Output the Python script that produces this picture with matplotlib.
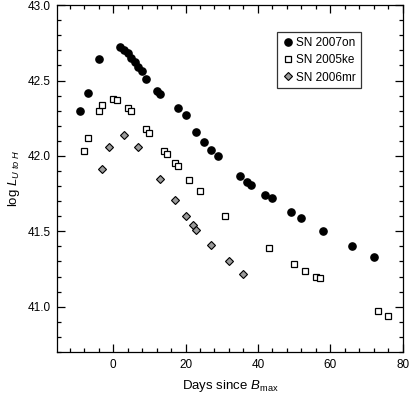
import matplotlib
matplotlib.use("Agg")
import matplotlib.pyplot as plt
from matplotlib.ticker import MultipleLocator

plt.rcParams["font.family"] = ["Liberation Sans", "DejaVu Sans"]
plt.rcParams["mathtext.fontset"] = "custom"
plt.rcParams["mathtext.rm"] = "Liberation Sans"
plt.rcParams["mathtext.it"] = "Liberation Sans:italic"

# SN 2007on
days_07on = [-9, -7, -4, 2, 3, 4, 5, 6, 7, 8, 9, 12, 13, 18, 20, 23, 25, 27, 29,
             35, 37, 38, 42, 44, 49, 52, 58, 66, 72]
lum_07on = [42.30, 42.42, 42.64, 42.72, 42.70, 42.68, 42.65, 42.62, 42.59, 42.56,
            42.51, 42.43, 42.41, 42.32, 42.27, 42.16, 42.09, 42.04, 42.00,
            41.87, 41.83, 41.81, 41.74, 41.72, 41.63, 41.59, 41.50, 41.40, 41.33]

# SN 2005ke
days_05ke = [-8, -7, -4, -3, 0, 1, 4, 5, 9, 10, 14, 15, 17, 18, 21, 24,
             31, 43, 50, 53, 56, 57, 73, 76]
lum_05ke = [42.03, 42.12, 42.30, 42.34, 42.38, 42.37, 42.32, 42.30, 42.18, 42.15,
            42.03, 42.01, 41.95, 41.93, 41.84, 41.77, 41.60, 41.39, 41.28, 41.24,
            41.20, 41.19, 40.97, 40.94]

# SN 2006mr
days_06mr = [-3, -1, 3, 7, 13, 17, 20, 22, 23, 27, 32, 36]
lum_06mr = [41.91, 42.06, 42.14, 42.06, 41.85, 41.71, 41.60, 41.54, 41.51,
            41.41, 41.30, 41.22]

fig = plt.figure(figsize=(4.09, 3.95), dpi=100)
ax = fig.add_axes([0.140, 0.109, 0.845, 0.878])

ax.plot(days_07on, lum_07on, "o", color="black", markersize=5.2, label="SN 2007on")
ax.plot(days_05ke, lum_05ke, "s", mfc="white", mec="black", mew=0.9,
        markersize=4.6, label="SN 2005ke")
ax.plot(days_06mr, lum_06mr, "D", mfc="#9a9a9a", mec="black", mew=0.8,
        markersize=4.2, label="SN 2006mr")

ax.set_xlim(-15.4, 80)
ax.set_ylim(40.7, 43.0)
ax.xaxis.set_major_locator(MultipleLocator(20))
ax.xaxis.set_minor_locator(MultipleLocator(4))
ax.yaxis.set_major_locator(MultipleLocator(0.5))
ax.yaxis.set_minor_locator(MultipleLocator(0.1))
ax.yaxis.set_major_formatter(plt.FormatStrFormatter("%.1f"))

ax.tick_params(which="both", direction="in", top=True, right=True,
               labelsize=8.5, width=0.9)
ax.tick_params(which="major", length=5.5)
ax.tick_params(axis="x", which="major", pad=5)
ax.tick_params(axis="y", which="major", pad=5)
ax.tick_params(which="minor", length=3.2)
for s in ax.spines.values():
    s.set_linewidth(0.9)

ax.set_xlabel(r"Days since $\mathit{B}_{\mathrm{max}}$", fontsize=9.5, labelpad=5)
ax.set_ylabel(r"log $\mathit{L}_{U\ to\ H}$", fontsize=9.5, labelpad=4)

leg = ax.legend(loc="upper right", bbox_to_anchor=(0.878, 0.922), borderaxespad=0,
                fontsize=8.5, frameon=True, fancybox=False, handletextpad=0.2,
                handlelength=1.0, borderpad=0.4, labelspacing=0.45)
leg.get_frame().set_edgecolor("black")
leg.get_frame().set_linewidth(0.9)

fig.savefig("out.png", dpi=100)
